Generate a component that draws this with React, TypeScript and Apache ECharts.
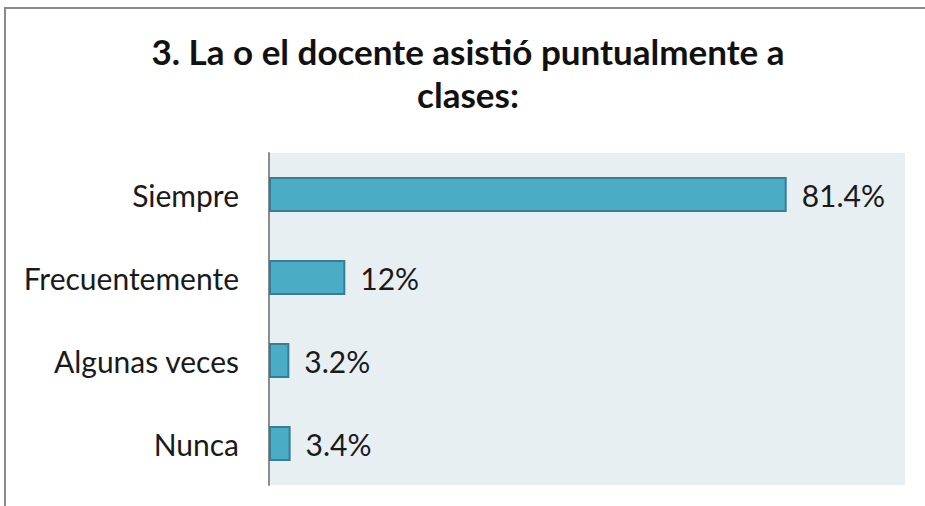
import React, { useEffect, useRef } from "react";
import * as echarts from "echarts";

const categories: string[] = ["Siempre", "Frecuentemente", "Algunas veces", "Nunca"];
const values: number[] = [81.4, 12, 3.2, 3.4];
const titleText = "3. La o el docente asistió puntualmente a\nclases:";

export default function App() {
  const ref = useRef<HTMLDivElement>(null);
  useEffect(() => {
    document.body.style.margin = "0";
    const chart = echarts.init(ref.current!, null, { renderer: "svg" });
    const font = "Lato";
    chart.setOption({
      animation: false,
      backgroundColor: "#ffffff",
      title: {
        text: titleText,
        left: 463,
        top: 24,
        textAlign: "center",
        textStyle: {
          fontFamily: font,
          fontWeight: "bold",
          fontSize: 35,
          lineHeight: 43,
          color: "#111111",
        },
      },
      graphic: [
        { type: "line", shape: { x1: 4, y1: 8, x2: 925, y2: 8 }, style: { stroke: "#8a8a8a", lineWidth: 2 } },
        { type: "line", shape: { x1: 5, y1: 8, x2: 5, y2: 506 }, style: { stroke: "#8a8a8a", lineWidth: 2 } },
      ],
      grid: {
        left: 269,
        right: 20,
        top: 153,
        bottom: 21,
        show: true,
        backgroundColor: "#E8EFF3",
        borderWidth: 0,
      },
      xAxis: {
        type: "value",
        min: 0,
        max: 100,
        show: false,
      },
      yAxis: {
        type: "category",
        data: categories,
        inverse: true,
        axisLine: { show: true, lineStyle: { color: "#8c8c8c", width: 2 } },
        axisTick: { show: false },
        axisLabel: {
          margin: 30,
          fontFamily: font,
          fontSize: 30,
          color: "#1a1a1a",
        },
      },
      series: [
        {
          type: "bar",
          data: values,
          barWidth: 35,
          itemStyle: { color: "#4BACC6", borderColor: "#357F94", borderWidth: 2 },
          label: {
            show: true,
            position: "right",
            distance: 15,
            formatter: (p: any) => `${p.value}%`,
            fontFamily: font,
            fontSize: 30,
            color: "#1a1a1a",
          },
        },
      ],
    });
    return () => chart.dispose();
  }, []);
  return (
    <div style={{ position: "absolute", left: 0, top: 0 }}>
      <div ref={ref} style={{ width: 925, height: 506 }} />
    </div>
  );
}
